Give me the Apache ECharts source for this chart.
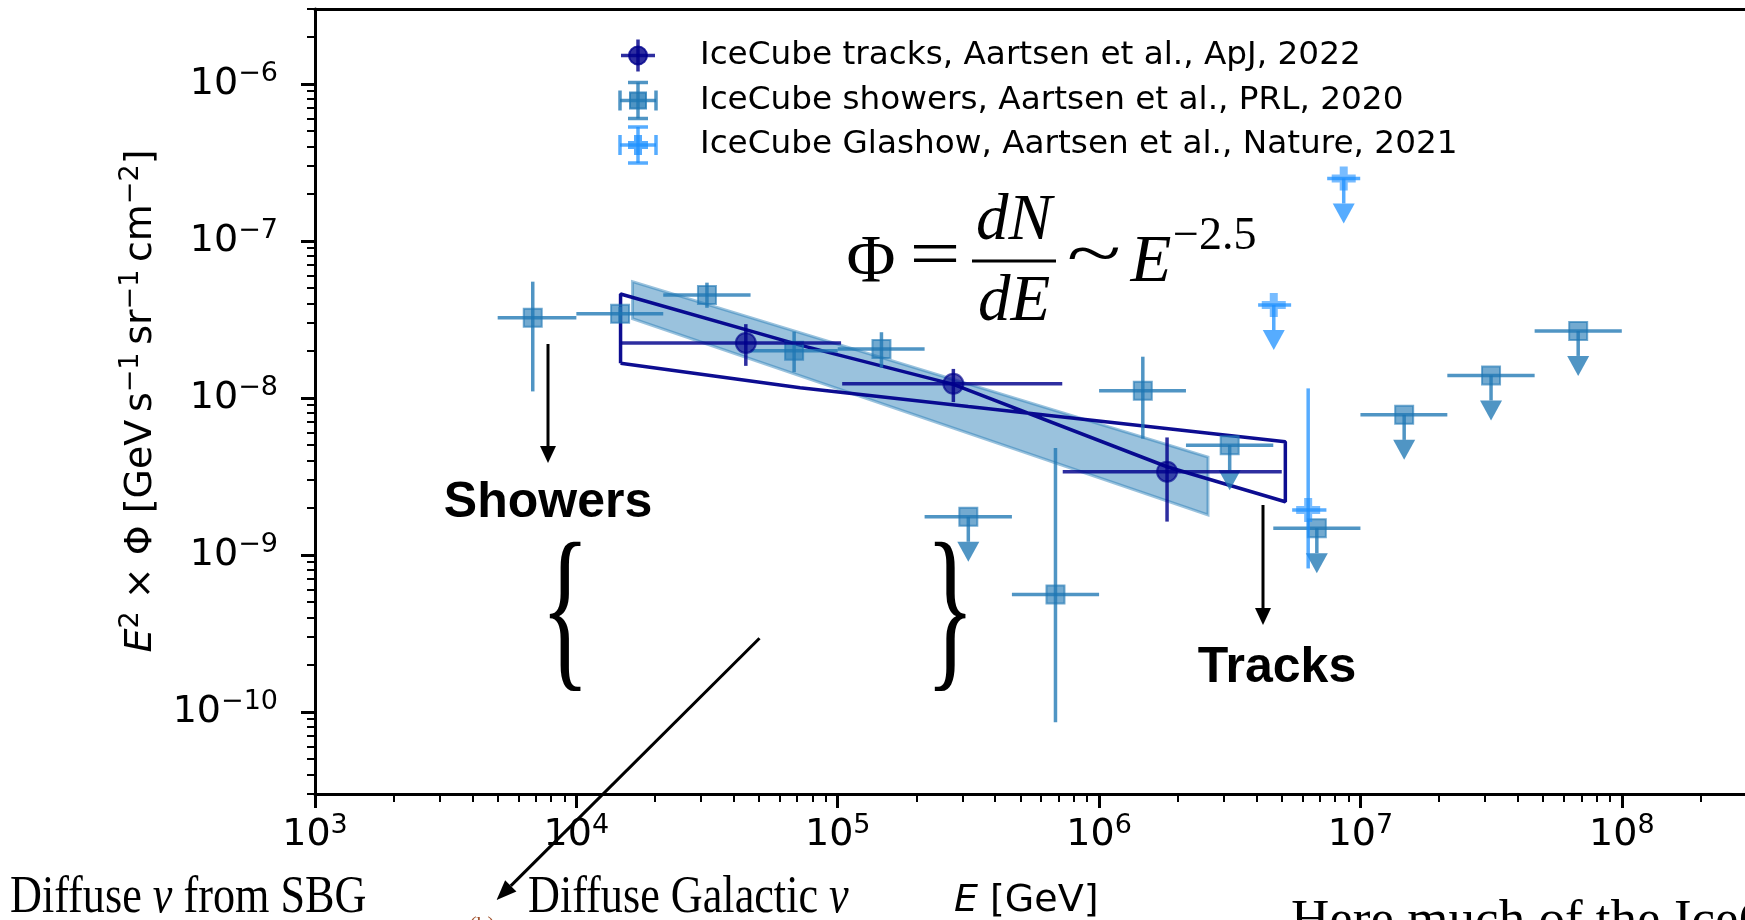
<!DOCTYPE html>
<html>
<head>
<meta charset="utf-8">
<script src="https://cdn.jsdelivr.net/npm/echarts@6/dist/echarts.min.js"></script>
<style>
  html, body { margin: 0; padding: 0; background: #fff; overflow: hidden; }
  #chart { width: 1745px; height: 920px; }
</style>
</head>
<body>
<div id="chart"></div>
<script>
// ---------- axis ranges and tick values ----------
const xMin = 1e3, xMax = 3e8;
const yMin = 3e-11, yMax = 3e-6;
const xMajorTicks = [1e3, 1e4, 1e5, 1e6, 1e7, 1e8];
const yMajorTicks = [1e-10, 1e-9, 1e-8, 1e-7, 1e-6];
const minorMultipliers = [2, 3, 4, 5, 6, 7, 8, 9];

// ---------- IceCube tracks (ApJ 2022) ----------
const trackE    = [4.45e4, 2.77e5, 1.82e6];
const trackEMin = [1.49e4, 1.04e5, 7.26e5];
const trackEMax = [1.03e5, 7.23e5, 5.0e6];
const trackFlux = [2.24e-8, 1.23e-8, 3.39e-9];
const trackFMin = [1.60e-8, 9.4e-9, 1.63e-9];
const trackFMax = [2.95e-8, 1.53e-8, 5.6e-9];

// tracks fit envelope: soft-index edge and hard-index edge
const trackSoftE = [1.476e4, 7.18e4, 2.77e5, 1.83e6, 5.16e6];
const trackSoftF = [4.59e-8, 2.17e-8, 1.22e-8, 3.63e-9, 2.18e-9];
const trackHardE = [1.476e4, 7.18e4, 3.16e5, 5.16e6];
const trackHardF = [1.66e-8, 1.16e-8, 8.81e-9, 5.26e-9];

// ---------- IceCube showers (PRL 2020); null = upper limit ----------
const showerE    = [6.81e3, 1.47e4, 3.16e4, 6.81e4, 1.47e5, 3.16e5, 6.81e5, 1.47e6, 3.16e6, 6.81e6, 1.47e7, 3.16e7, 6.81e7];
const showerEMin = [5.0e3, 1.0e4, 2.15e4, 4.64e4, 1.0e5, 2.15e5, 4.64e5, 1.0e6, 2.15e6, 4.64e6, 1.0e7, 2.15e7, 4.64e7];
const showerEMax = [1.0e4, 2.15e4, 4.64e4, 1.0e5, 2.15e5, 4.64e5, 1.0e6, 2.15e6, 4.64e6, 1.0e7, 2.15e7, 4.64e7, 1.0e8];
const showerFlux = [3.24e-8, 3.43e-8, 4.52e-8, 2.0e-8, 2.05e-8, 1.75e-9, 5.6e-10, 1.11e-8, 5.0e-9, 1.48e-9, 7.8e-9, 1.39e-8, 2.67e-8];
const showerFMin = [1.1e-8, 3.05e-8, 3.75e-8, 1.46e-8, 1.56e-8, null, 8.6e-11, 5.5e-9, null, null, null, null, null];
const showerFMax = [5.5e-8, 3.8e-8, 5.42e-8, 2.64e-8, 2.62e-8, null, 4.8e-9, 1.83e-8, null, null, null, null, null];

// showers best-fit band
const bandE  = [1.64e4, 2.61e6];
const bandHi = [5.5e-8, 4.2e-9];
const bandLo = [3.2e-8, 1.8e-9];

// ---------- IceCube Glashow (Nature 2021); null = upper limit ----------
const glashowE    = [4.66e6, 6.31e6, 8.63e6];
const glashowEMin = [4.06e6, 5.48e6, 7.46e6];
const glashowEMax = [5.43e6, 7.41e6, 9.98e6];
const glashowFlux = [3.9e-8, 1.93e-9, 2.5e-7];
const glashowFMin = [null, 8.2e-10, null];
const glashowFMax = [null, 1.15e-8, null];

// ---------- legend texts ----------
const legendLabels = [
  'IceCube tracks, Aartsen et al., ApJ, 2022',
  'IceCube showers, Aartsen et al., PRL, 2020',
  'IceCube Glashow, Aartsen et al., Nature, 2021'
];

// ---------- styling ----------
const TRACK = 'rgba(0,0,139,0.82)';
const TRACK_LINE = 'rgba(0,0,139,0.95)';
const SHOWER = 'rgba(31,119,180,0.78)';
const GLASHOW = 'rgba(30,144,255,0.75)';
const BAND = 'rgba(31,119,180,0.45)';
const SANS = 'DejaVu Sans';
const SERIF = 'Liberation Serif';
const PLUS = 'path://M-1,-3 L1,-3 L1,-1 L3,-1 L3,1 L1,1 L1,3 L-1,3 L-1,1 L-3,1 L-3,-1 L-1,-1 Z';

function minorValues(lo, hi) {
  const out = [];
  for (let d = Math.floor(Math.log10(lo)); d < Math.ceil(Math.log10(hi)); d++) {
    minorMultipliers.forEach(m => {
      const v = Number((m * Math.pow(10, d)).toPrecision(6));
      if (v >= lo && v <= hi) out.push(v);
    });
  }
  return out;
}
const xMinorTicks = minorValues(xMin, xMax);
const yMinorTicks = minorValues(yMin, yMax);

function powLabel(v) {
  const e = Math.round(Math.log10(v));
  const sup = e < 0 ? '\u2212' + (-e) : String(e);
  return '{b|10}{s|' + sup + '}';
}
const tickRich = {
  b: { fontSize: 38, fontFamily: SANS, lineHeight: 47, color: '#000' },
  s: { fontSize: 27, fontFamily: SANS, lineHeight: 27, verticalAlign: 'top', color: '#000' }
};

// rows for measured points and for upper limits
function splitRows(E, Emin, Emax, F, Fmin, Fmax) {
  const meas = [], lims = [], pts = [];
  E.forEach((e, i) => {
    pts.push([e, F[i]]);
    if (Fmin[i] == null) lims.push([e, F[i], Emin[i], Emax[i]]);
    else meas.push([e, F[i], Emin[i], Emax[i], Fmin[i], Fmax[i]]);
  });
  return { meas, lims, pts };
}
const showers = splitRows(showerE, showerEMin, showerEMax, showerFlux, showerFMin, showerFMax);
const glashow = splitRows(glashowE, glashowEMin, glashowEMax, glashowFlux, glashowFMin, glashowFMax);
const tracks  = splitRows(trackE, trackEMin, trackEMax, trackFlux, trackFMin, trackFMax);

// closed outline of the tracks envelope
const trackEnvelope = [[trackHardE[0], trackHardF[0]]];
trackSoftE.forEach((e, i) => trackEnvelope.push([e, trackSoftF[i]]));
for (let i = trackHardE.length - 1; i >= 0; i--) trackEnvelope.push([trackHardE[i], trackHardF[i]]);

function errorBars(color, lw) {
  return function (params, api) {
    const x = api.value(0), y = api.value(1);
    const c = api.coord([x, y]);
    const l = api.coord([api.value(2), y]);
    const r = api.coord([api.value(3), y]);
    const lo = api.coord([x, api.value(4)]);
    const hi = api.coord([x, api.value(5)]);
    const st = { stroke: color, lineWidth: lw, fill: null };
    return { type: 'group', children: [
      { type: 'line', shape: { x1: l[0], y1: c[1], x2: r[0], y2: c[1] }, style: st },
      { type: 'line', shape: { x1: c[0], y1: hi[1], x2: c[0], y2: lo[1] }, style: st }
    ]};
  };
}
function upperLimits(color, lw) {
  return function (params, api) {
    const x = api.value(0), y = api.value(1);
    const c = api.coord([x, y]);
    const l = api.coord([api.value(2), y]);
    const r = api.coord([api.value(3), y]);
    const tip = c[1] + 45, base = tip - 20;
    return { type: 'group', children: [
      { type: 'line', shape: { x1: l[0], y1: c[1], x2: r[0], y2: c[1] }, style: { stroke: color, lineWidth: lw, fill: null } },
      { type: 'line', shape: { x1: c[0], y1: c[1], x2: c[0], y2: base }, style: { stroke: color, lineWidth: lw, fill: null } },
      { type: 'polygon', shape: { points: [[c[0] - 11, base], [c[0] + 11, base], [c[0], tip]] }, style: { fill: color } }
    ]};
  };
}
function bandItem(params, api) {
  const pts = bandE.map((e, i) => api.coord([e, bandHi[i]]));
  for (let i = bandE.length - 1; i >= 0; i--) pts.push(api.coord([bandE[i], bandLo[i]]));
  return { type: 'polygon', shape: { points: pts }, style: { fill: BAND, stroke: BAND, lineWidth: 3 } };
}

// ---------- text helpers for annotations ----------
function label(x, y, text, size, family, opts) {
  opts = opts || {};
  const style = {
    text: text, fontSize: size, fontFamily: family,
    fontStyle: opts.italic ? 'italic' : 'normal',
    fontWeight: opts.bold ? 'bold' : 'normal',
    fill: opts.color || '#000',
    align: opts.align || 'center', textAlign: opts.align || 'center',
    verticalAlign: 'middle', textVerticalAlign: 'middle'
  };
  if (opts.rich) style.rich = opts.rich;
  if (opts.lineHeight) style.lineHeight = opts.lineHeight;
  return {
    type: 'group', x: x, y: y, scaleX: opts.scaleX || 1, rotation: opts.rotation || 0,
    children: [{ type: 'text', x: 0, y: opts.dy || 0, style: style }]
  };
}
function arrow(x1, y1, x2, y2, head, half) {
  const len = Math.hypot(x2 - x1, y2 - y1);
  const ux = (x2 - x1) / len, uy = (y2 - y1) / len;
  const bx = x2 - ux * head, by = y2 - uy * head;
  return [
    { type: 'line', shape: { x1: x1, y1: y1, x2: bx, y2: by }, style: { stroke: '#000', lineWidth: 3 } },
    { type: 'polygon', shape: { points: [[bx - uy * half, by + ux * half], [bx + uy * half, by - ux * half], [x2, y2]] }, style: { fill: '#000' } }
  ];
}

// legend handles
const legendRowsY = [55.5, 100.5, 145];
const legendX = 638;
function capBars(color, h, cap) {
  return [
    { type: 'line', shape: { x1: -h, y1: 0, x2: h, y2: 0 }, style: { stroke: color, lineWidth: 3.5 } },
    { type: 'line', shape: { x1: 0, y1: -h, x2: 0, y2: h }, style: { stroke: color, lineWidth: 3.5 } },
    { type: 'line', shape: { x1: -h, y1: -cap, x2: -h, y2: cap }, style: { stroke: color, lineWidth: 3.5 } },
    { type: 'line', shape: { x1: h, y1: -cap, x2: h, y2: cap }, style: { stroke: color, lineWidth: 3.5 } },
    { type: 'line', shape: { x1: -cap, y1: -h, x2: cap, y2: -h }, style: { stroke: color, lineWidth: 3.5 } },
    { type: 'line', shape: { x1: -cap, y1: h, x2: cap, y2: h }, style: { stroke: color, lineWidth: 3.5 } }
  ];
}
const legendGraphics = [
  { type: 'group', x: legendX, y: legendRowsY[0], children: [
    { type: 'line', shape: { x1: -17, y1: 0, x2: 17, y2: 0 }, style: { stroke: TRACK, lineWidth: 3.5 } },
    { type: 'line', shape: { x1: 0, y1: -16, x2: 0, y2: 16 }, style: { stroke: TRACK, lineWidth: 3.5 } },
    { type: 'circle', shape: { cx: 0, cy: 0, r: 9 }, style: { fill: TRACK, stroke: TRACK, lineWidth: 2 } }
  ]},
  { type: 'group', x: legendX, y: legendRowsY[1], children: capBars(SHOWER, 18, 10).concat([
    { type: 'rect', shape: { x: -8, y: -8, width: 16, height: 16 }, style: { fill: SHOWER, stroke: SHOWER, lineWidth: 2 } }
  ])},
  { type: 'group', x: legendX, y: legendRowsY[2], children: capBars(GLASHOW, 18, 10).concat([
    { type: 'polygon', shape: { points: [[-4,-10],[4,-10],[4,-4],[10,-4],[10,4],[4,4],[4,10],[-4,10],[-4,4],[-10,4],[-10,-4],[-4,-4]] }, style: { fill: GLASHOW } }
  ])}
].concat(legendLabels.map((t, i) => label(700, legendRowsY[i], t, 32.7, SANS, { align: 'left' })));

const supRich = {
  i: { fontSize: 38, fontFamily: SANS, fontStyle: 'italic', lineHeight: 47 },
  s: { fontSize: 27, fontFamily: SANS, lineHeight: 27, verticalAlign: 'top' }
};
const serifRich = { i: { fontSize: 52, fontFamily: SERIF, fontStyle: 'italic' } };

const annotations = [
  // axis titles
  label(141, 401, '{i|E}{s|2} \u00d7 \u03a6 [GeV\u2009s{s|\u22121}\u2009sr{s|\u22121}\u2009cm{s|\u22122}]', 38, SANS,
        { rich: supRich, lineHeight: 47, rotation: Math.PI / 2 }),
  label(954, 901, 'E', 38, SANS, { italic: true, align: 'left' }),
  label(990, 901, '[GeV]', 38, SANS, { align: 'left' }),
  // spectral shape formula
  label(871, 263, '\u03a6', 67, SERIF),
  label(935, 258, '=', 67, SERIF, { scaleX: 1.35 }),
  label(1014, 222, 'dN', 65, SERIF, { italic: true }),
  { type: 'line', shape: { x1: 972, y1: 261, x2: 1056, y2: 261 }, style: { stroke: '#000', lineWidth: 3 } },
  label(1014, 303, 'dE', 65, SERIF, { italic: true }),
  label(1094, 258, '~', 67, SERIF, { scaleX: 1.5 }),
  label(1151, 263, 'E', 67, SERIF, { italic: true }),
  label(1173, 237, '\u22122.5', 46, SERIF, { align: 'left' }),
  // event class labels
  label(548, 503, 'Showers', 50, 'Liberation Sans', { bold: true }),
  label(1277, 668, 'Tracks', 50, 'Liberation Sans', { bold: true }),
  // braces
  label(565, 620, '{', 180, SERIF, { scaleX: 0.57 }),
  label(950, 620, '}', 180, SERIF, { scaleX: 0.57 }),
  // bottom captions
  label(10, 898, 'Diffuse {i|\u03bd} from SBG', 52, SERIF, { align: 'left', rich: serifRich, scaleX: 0.85 }),
  label(528, 898, 'Diffuse Galactic {i|\u03bd}', 52, SERIF, { align: 'left', rich: serifRich, scaleX: 0.85 }),
  label(482, 925, '(b)', 22, SERIF, { color: '#a0522d' }),
  label(1291, 922, 'Here much of the IceCube', 52, SERIF, { align: 'left', scaleX: 1.02 })
].concat(arrow(548, 344, 548, 463, 17, 8))
 .concat(arrow(1263, 505, 1263, 625, 17, 8))
 .concat(arrow(759.5, 638.3, 496.6, 900, 20, 8));

// ---------- chart ----------
const chart = echarts.init(document.getElementById('chart'), null, { renderer: 'canvas', width: 1745, height: 920 });

const logAxisBase = { type: 'log', logBase: 10, splitLine: { show: false }, minorTick: { show: false }, minorSplitLine: { show: false } };

chart.setOption({
  animation: false,
  backgroundColor: '#fff',
  textStyle: { fontFamily: SANS },
  grid: { left: 315, top: 9, width: 1431.5, height: 785, containLabel: false, outerBoundsMode: 'none' },
  xAxis: [
    Object.assign({}, logAxisBase, {
      min: xMin, max: xMax, position: 'bottom',
      axisLine: { show: true, lineStyle: { color: '#000', width: 3 } },
      axisTick: { show: true, customValues: xMajorTicks, length: 14, lineStyle: { color: '#000', width: 3 } },
      axisLabel: { show: true, customValues: xMajorTicks, formatter: powLabel, rich: tickRich, margin: 18 }
    }),
    Object.assign({}, logAxisBase, {
      min: xMin, max: xMax, position: 'bottom',
      axisLine: { show: false },
      axisTick: { show: true, customValues: xMinorTicks, length: 8, lineStyle: { color: '#000', width: 2 } },
      axisLabel: { show: false }
    }),
    Object.assign({}, logAxisBase, {
      min: xMin, max: xMax, position: 'top',
      axisLine: { show: true, lineStyle: { color: '#000', width: 3 } },
      axisTick: { show: false }, axisLabel: { show: false }
    })
  ],
  yAxis: [
    Object.assign({}, logAxisBase, {
      min: yMin, max: yMax, position: 'left',
      axisLine: { show: true, lineStyle: { color: '#000', width: 3 } },
      axisTick: { show: true, customValues: yMajorTicks, length: 14, lineStyle: { color: '#000', width: 3 } },
      axisLabel: { show: true, customValues: yMajorTicks, formatter: powLabel, rich: tickRich, margin: 37 }
    }),
    Object.assign({}, logAxisBase, {
      min: yMin, max: yMax, position: 'left',
      axisLine: { show: false },
      axisTick: { show: true, customValues: yMinorTicks, length: 8, lineStyle: { color: '#000', width: 2 } },
      axisLabel: { show: false }
    })
  ],
  graphic: { elements: legendGraphics.concat(annotations) },
  series: [
    { name: 'IceCube showers best fit', type: 'custom', renderItem: bandItem,
      data: [[bandE[0], bandHi[0]]], silent: true, z: 2 },
    { name: 'IceCube tracks best fit', type: 'line', data: trackEnvelope, symbol: 'none', showSymbol: false,
      lineStyle: { color: TRACK_LINE, width: 3.5 }, silent: true, z: 3 },
    { name: 'showers errors', type: 'custom', renderItem: errorBars(SHOWER, 3.5), data: showers.meas, silent: true, z: 4 },
    { name: 'showers limits', type: 'custom', renderItem: upperLimits(SHOWER, 3.5), data: showers.lims, silent: true, z: 4 },
    { name: legendLabels[1], type: 'scatter', symbol: 'rect', symbolSize: 18, data: showers.pts,
      itemStyle: { color: SHOWER, borderColor: SHOWER, borderWidth: 2 }, z: 5 },
    { name: 'glashow errors', type: 'custom', renderItem: errorBars(GLASHOW, 3.5), data: glashow.meas, silent: true, z: 6 },
    { name: 'glashow limits', type: 'custom', renderItem: upperLimits(GLASHOW, 3.5), data: glashow.lims, silent: true, z: 6 },
    { name: legendLabels[2], type: 'scatter', symbol: PLUS, symbolSize: 24, data: glashow.pts,
      itemStyle: { color: GLASHOW }, z: 7 },
    { name: 'tracks errors', type: 'custom', renderItem: errorBars(TRACK, 3.5), data: tracks.meas, silent: true, z: 8 },
    { name: legendLabels[0], type: 'scatter', symbol: 'circle', symbolSize: 20, data: tracks.pts,
      itemStyle: { color: TRACK, borderColor: TRACK, borderWidth: 2 }, z: 9 }
  ]
});
</script>
</body>
</html>
